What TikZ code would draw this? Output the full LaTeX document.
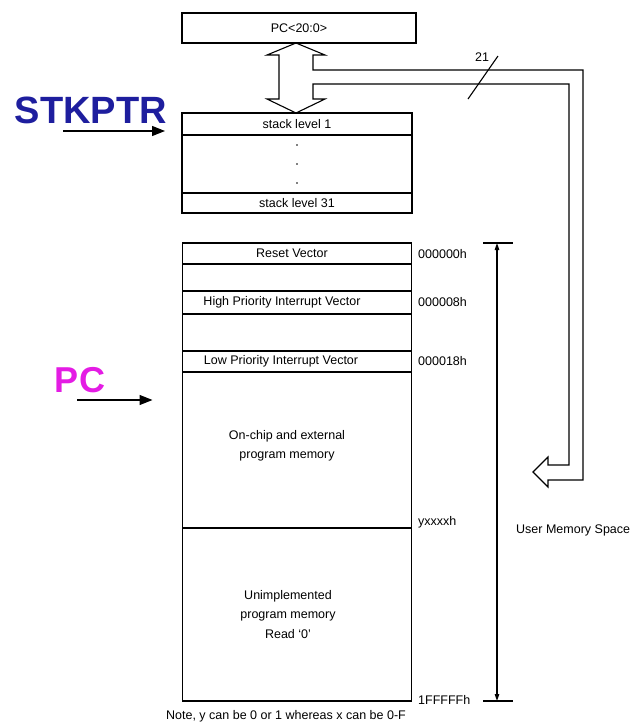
\documentclass[tikz,border=0pt]{standalone}
\usepackage{fontspec}
\setmainfont{Liberation Sans}
\usetikzlibrary{positioning, arrows.meta}
\definecolor{PtrBlue}{HTML}{1E1E9E}
\definecolor{PcMagenta}{HTML}{E41CE4}

\begin{document}
\begin{tikzpicture}[x=1pt, y=-1pt,
    cell/.style={
      draw, line width=1.1pt, minimum width=229pt,
      inner sep=0pt, outer sep=0pt, font=\fontsize{12.5}{15}\selectfont
    },
    memtxt/.style={align=center, inner sep=0pt, font=\fontsize{12.5}{19.5}\selectfont},
    addr/.style={anchor=west, inner sep=0pt, font=\fontsize{12.5}{15}\selectfont},
    ptr/.style={inner sep=0pt, font=\fontsize{38}{40}\selectfont\bfseries},
    fat/.style={draw, line width=1.1pt, line join=miter},
    pointer/.style={line width=1.2pt, -{Triangle[length=13pt, width=10pt]}}
  ]
  \useasboundingbox (0,0) rectangle (635,724);

  %% PC register and stack
  \node[cell, minimum width=234pt, minimum height=30pt] (pcreg) at (299,28) {PC<20:0>};
  \node[cell, minimum width=230pt, minimum height=22pt] (lvl1) at (297,124) {stack level 1};
  \node[cell, minimum width=230pt, minimum height=58pt, below=0pt of lvl1] (dots) {};
  \node[cell, minimum width=230pt, minimum height=20pt, below=0pt of dots] (lvl31) {stack level 31};
  \foreach \dy in {-19,0,19}
    \fill ([yshift=\dy pt]dots.center) circle (0.9pt);

  %% Program memory map
  \node[cell, minimum height=21pt, label={[memtxt, xshift=-5pt]center:Reset Vector}] (reset) at (297,253.5) {};
  \node[cell, minimum height=27pt, below=0pt of reset] (gapA) {};
  \node[cell, minimum height=23pt, below=0pt of gapA, label={[memtxt, xshift=-15pt]center:High Priority Interrupt Vector}] (hivec) {};
  \node[cell, minimum height=37pt, below=0pt of hivec] (gapB) {};
  \node[cell, minimum height=21pt, below=0pt of gapB, label={[memtxt, xshift=-16pt]center:Low Priority Interrupt Vector}] (lovec) {};
  \node[cell, minimum height=156pt, below=0pt of lovec, label={[memtxt, xshift=-10pt, yshift=4pt]center:{On-chip and external\\program memory}}] (onchip) {};
  \node[cell, minimum height=173pt, below=0pt of onchip, label={[memtxt, xshift=-9pt]center:{Unimplemented\\program memory\\Read `0'}}] (unimpl) {};

  %% Addresses
  \node[addr] (a0) at (418,254) {000000h};
  \node[addr] (a8) at (418,302) {000008h};
  \node[addr] (a18) at (418,361) {000018h};
  \node[addr] (ay) at (418,522) {yxxxxh};
  \node[addr] (aend) at (418,700) {1FFFFFh};
  \node[addr] (usr) at (516,530) {User Memory Space};
  \node[memtxt] (note) at (286,716) {Note, y can be 0 or 1 whereas x can be 0-F};

  %% Range arrow
  \coordinate (rtop) at (497,0 |- reset.north);
  \coordinate (rbot) at (497,0 |- unimpl.south);
  \draw[line width=1.1pt] ([xshift=-14pt]rtop) -- ([xshift=16pt]rtop);
  \draw[line width=1.1pt] ([xshift=-14pt]rbot) -- ([xshift=16pt]rbot);
  \draw[line width=1.1pt, {Triangle[length=7pt, width=4.5pt]}-{Triangle[length=7pt, width=4.5pt]}] (rtop) -- (rbot);

  %% Fat bus arrow
  \coordinate (up) at (296,0 |- pcreg.south);
  \coordinate (dn) at (296,0 |- lvl1.north);
  \coordinate (memtip) at (533,472);
  \draw[fat] (up) -- (325,55) -- (313,55) -- (313,70) -- (583,70) -- (583,480)
    -- (548,480) -- (548,487) -- (memtip) -- (548,457) -- (548,465) -- (569,465)
    -- (569,84) -- (313,84) -- (313,99) -- (325,99) -- (dn) -- (267,99) -- (279,99)
    -- (279,55) -- (267,55) -- cycle;
  \draw[line width=1.1pt] (468,99) -- (498,56);
  \node[addr, anchor=center] (bits) at (482,57) {21};

  %% Pointers
  \node[ptr, text=PtrBlue] (stkptr) at (91,110) {STKPTR};
  \node[ptr, text=PcMagenta, font=\fontsize{36}{38}\selectfont\bfseries] (pclbl) at (80,380) {PC};
  \coordinate (stkfrom) at (63,131);
  \coordinate (pcfrom) at (77,400);
  \draw[pointer, shorten >=17pt] (stkfrom) -- (stkfrom -| lvl1.west);
  \draw[pointer, shorten >=30pt] (pcfrom) -- (pcfrom -| onchip.west);
\end{tikzpicture}
\end{document}
